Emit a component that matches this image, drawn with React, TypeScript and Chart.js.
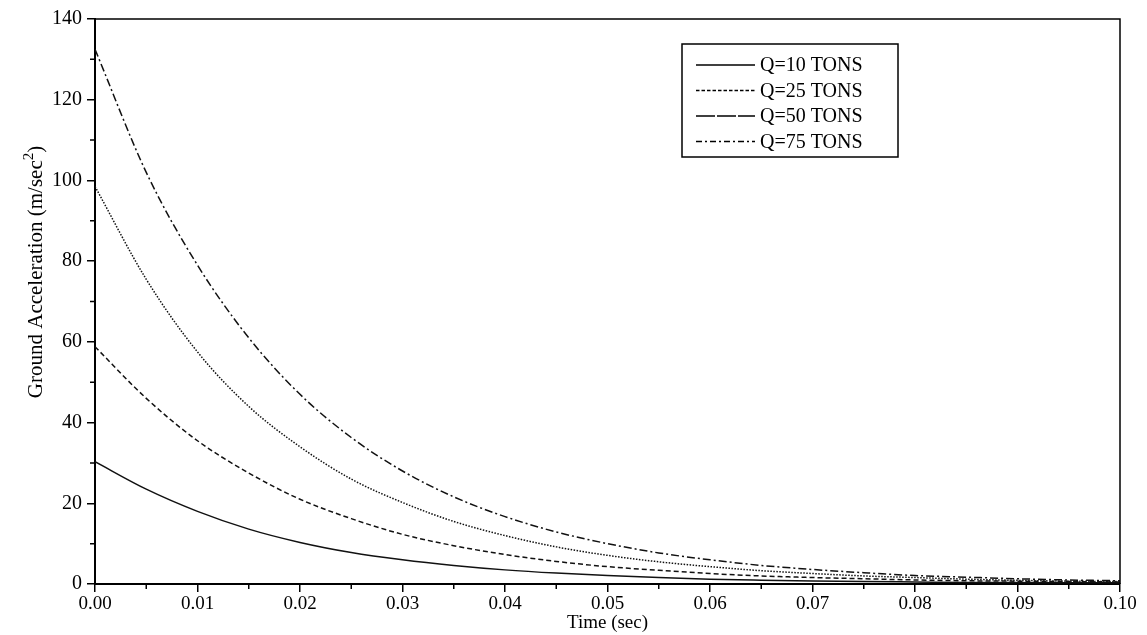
import React, { useEffect, useRef } from "react";
import { Chart, registerables } from "chart.js";

Chart.register(...registerables);

// Time axis (sec)
const TIME = [
  0, 0.005, 0.01, 0.015, 0.02, 0.025, 0.03, 0.035, 0.04, 0.045, 0.05,
  0.055, 0.06, 0.065, 0.07, 0.075, 0.08, 0.085, 0.09, 0.095, 0.1,
];

// Ground acceleration (m/sec^2) per charge weight
const Q10 = [
  30.3, 23.5, 18.0, 13.6, 10.3, 7.8, 6.0, 4.6, 3.5, 2.7, 2.1,
  1.6, 1.2, 0.95, 0.75, 0.6, 0.5, 0.4, 0.35, 0.3, 0.3,
];
const Q25 = [
  58.8, 46.0, 35.5, 27.5, 21.0, 16.2, 12.3, 9.5, 7.3, 5.6, 4.3,
  3.4, 2.6, 2.0, 1.6, 1.3, 1.0, 0.8, 0.7, 0.6, 0.5,
];
const Q50 = [
  98.5, 75.5, 57.5, 44.0, 34.0, 26.0, 20.2, 15.5, 12.0, 9.2, 7.1,
  5.5, 4.3, 3.3, 2.6, 2.0, 1.6, 1.2, 0.9, 0.7, 0.6,
];
const Q75 = [
  132.5, 102.0, 79.0, 61.0, 47.0, 36.3, 28.0, 21.6, 16.7, 12.9, 10.0,
  7.7, 6.0, 4.6, 3.6, 2.8, 2.1, 1.7, 1.3, 1.0, 0.8,
];

const SERIES_LABELS = ["Q=10 TONS", "Q=25 TONS", "Q=50 TONS", "Q=75 TONS"];
const Y_MINOR = [10, 30, 50, 70, 90, 110, 130];
const X_MINOR = [0.005, 0.015, 0.025, 0.035, 0.045, 0.055, 0.065, 0.075, 0.085, 0.095];

const FONT = '"Liberation Serif", "Times New Roman", serif';

const PLOT_DASH = [[], [5, 3], [1.5, 1.5], [8, 3, 2, 3]];
const LEGEND_DASH = [[], [3.5, 2], [19, 2], [6, 3, 2, 3]];

const toPoints = (ys: number[]) => TIME.map((t, i) => ({ x: t, y: ys[i] }));

const decorPlugin = {
  id: "decor",
  afterDraw(chart: any) {
    const ctx = chart.ctx as CanvasRenderingContext2D;
    const { chartArea } = chart;
    const xs = chart.scales.x;
    const ys = chart.scales.y;
    ctx.save();
    ctx.strokeStyle = "#000";
    ctx.setLineDash([]);
    // top and right frame
    ctx.lineWidth = 1.5;
    ctx.beginPath();
    ctx.moveTo(chartArea.left, chartArea.top);
    ctx.lineTo(chartArea.right, chartArea.top);
    ctx.lineTo(chartArea.right, chartArea.bottom);
    ctx.stroke();
    // minor ticks
    ctx.lineWidth = 1.5;
    ctx.beginPath();
    Y_MINOR.forEach((v) => {
      const py = ys.getPixelForValue(v);
      ctx.moveTo(chartArea.left, py);
      ctx.lineTo(chartArea.left - 5, py);
    });
    X_MINOR.forEach((v) => {
      const px = xs.getPixelForValue(v);
      ctx.moveTo(px, chartArea.bottom);
      ctx.lineTo(px, chartArea.bottom + 5);
    });
    ctx.stroke();

    // legend
    const lx = 682, ly = 44, lw = 216, lh = 113;
    ctx.fillStyle = "#fff";
    ctx.fillRect(lx, ly, lw, lh);
    ctx.lineWidth = 1.5;
    ctx.strokeRect(lx, ly, lw, lh);
    ctx.font = `20px ${FONT}`;
    ctx.fillStyle = "#000";
    ctx.textBaseline = "middle";
    ctx.textAlign = "left";
    SERIES_LABELS.forEach((lab, i) => {
      const ry = 65 + i * 25.5;
      ctx.setLineDash(LEGEND_DASH[i]);
      ctx.lineWidth = 1.5;
      ctx.beginPath();
      ctx.moveTo(696, ry);
      ctx.lineTo(755, ry);
      ctx.stroke();
      ctx.setLineDash([]);
      ctx.fillText(lab, 760, ry + 1);
    });

    // y axis title with superscript
    ctx.translate(35, 272);
    ctx.rotate(-Math.PI / 2);
    ctx.textBaseline = "alphabetic";
    const main = "Ground Acceleration (m/sec";
    ctx.font = `21px ${FONT}`;
    const w1 = ctx.measureText(main).width;
    const w3 = ctx.measureText(")").width;
    ctx.font = `15px ${FONT}`;
    const w2 = ctx.measureText("2").width;
    const total = w1 + w2 + w3;
    const x0 = -total / 2;
    ctx.font = `21px ${FONT}`;
    ctx.fillText(main, x0, 7);
    ctx.font = `15px ${FONT}`;
    ctx.fillText("2", x0 + w1, -2);
    ctx.font = `21px ${FONT}`;
    ctx.fillText(")", x0 + w1 + w2, 7);
    ctx.restore();
  },
};

export default function App() {
  const ref = useRef<HTMLCanvasElement | null>(null);

  useEffect(() => {
    if (!ref.current) return;
    const seriesData = [Q10, Q25, Q50, Q75];
    const chart = new Chart(ref.current, {
      type: "line",
      data: {
        datasets: seriesData.map((d, i) => ({
          label: SERIES_LABELS[i],
          data: toPoints(d),
          borderColor: "#111",
          backgroundColor: "#111",
          borderWidth: 1.5,
          borderDash: PLOT_DASH[i],
          pointRadius: 0,
          cubicInterpolationMode: "monotone" as const,
          fill: false,
        })),
      },
      options: {
        animation: false,
        responsive: true,
        maintainAspectRatio: false,
        layout: { padding: { left: 0, top: 19, right: 27, bottom: 0 } },
        plugins: {
          legend: { display: false },
          tooltip: { enabled: false },
        },
        scales: {
          x: {
            type: "linear",
            min: 0,
            max: 0.1,
            ticks: {
              stepSize: 0.01,
              callback: (v: any) => Number(v).toFixed(2),
              font: { family: FONT, size: 19 },
              color: "#000",
              padding: 1,
              maxRotation: 0,
              autoSkip: false,
            },
            grid: {
              display: true,
              drawOnChartArea: false,
              drawTicks: true,
              tickLength: 8,
              color: "#000",
              lineWidth: 1.5,
            },
            border: { display: true, color: "#000", width: 2 },
            title: {
              display: true,
              text: "Time (sec)",
              font: { family: FONT, size: 19 },
              color: "#000",
              padding: { top: 0, bottom: 1 },
            },
            afterFit: (s: any) => {
              s.height = 51;
            },
          },
          y: {
            type: "linear",
            min: 0,
            max: 140,
            ticks: {
              stepSize: 20,
              font: { family: FONT, size: 20 },
              color: "#000",
              padding: 5,
            },
            grid: {
              display: true,
              drawOnChartArea: false,
              drawTicks: true,
              tickLength: 8,
              color: "#000",
              lineWidth: 1.5,
            },
            border: { display: true, color: "#000", width: 2 },
            afterFit: (s: any) => {
              s.width = 95;
            },
          },
        },
      },
      plugins: [decorPlugin],
    });
    return () => chart.destroy();
  }, []);

  return (
    <div
      style={{
        position: "fixed",
        left: 0,
        top: 0,
        width: 1147,
        height: 635,
        background: "#fff",
      }}
    >
      <canvas ref={ref} />
    </div>
  );
}
